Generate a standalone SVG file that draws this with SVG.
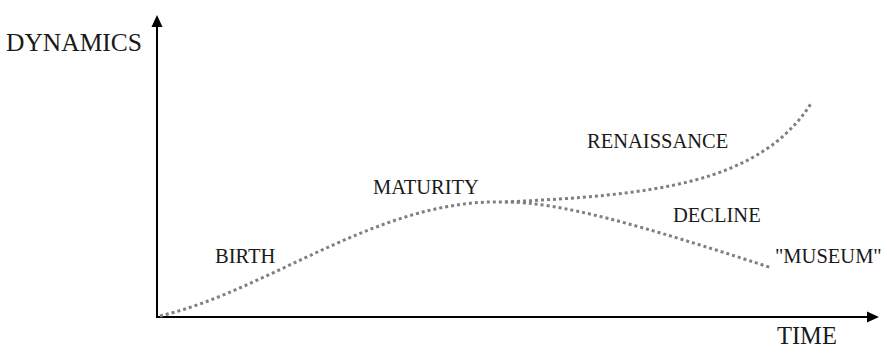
<svg xmlns="http://www.w3.org/2000/svg" width="887" height="353" viewBox="0 0 887 353">
<defs>
<style>
text{font-family:"Liberation Serif","Times New Roman",serif;fill:#1a1a1a}
.lb{font-size:20.5px}
.axis{stroke:#000;stroke-width:2;fill:none}
.curve{stroke:#808080;stroke-width:3;fill:none;stroke-dasharray:3 3}
</style>
<marker id="ah" markerWidth="12" markerHeight="12" refX="10" refY="6" orient="auto" markerUnits="userSpaceOnUse">
<path d="M0,0.5 L12,6 L0,11.5 Z" fill="#000"/>
</marker>
</defs>
<g id="connectors">
<path class="axis" d="M157,318 L157,17" marker-end="url(#ah)"/>
<path class="axis" d="M156,317 L877,317" marker-end="url(#ah)"/>
<path class="curve" d="M160,316 C270,290 380,198 505,202"/>
<path class="curve" d="M505,202 C650,195 760,185 812,102"/>
<path class="curve" d="M505,202 C560,202 640,225 772,268"/>
</g>
<g id="dynamics"><text x="6" y="51" font-size="25.5">DYNAMICS</text></g>
<g id="time"><text x="777" y="344" font-size="24.5">TIME</text></g>
<g id="birth"><text class="lb" x="215" y="263">BIRTH</text></g>
<g id="maturity"><text class="lb" x="373" y="194">MATURITY</text></g>
<g id="renaissance"><text class="lb" x="587" y="148">RENAISSANCE</text></g>
<g id="decline"><text class="lb" x="673" y="222">DECLINE</text></g>
<g id="museum"><text class="lb" x="775" y="263">"MUSEUM"</text></g>
</svg>
